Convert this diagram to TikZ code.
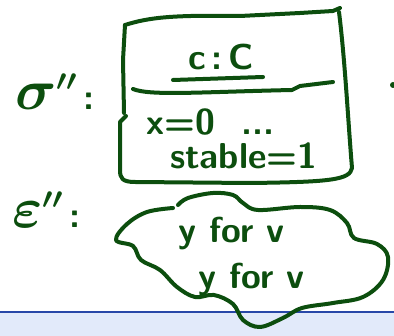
\documentclass[tikz,border=0pt]{standalone}
\usepackage{tikz}
\usepackage{graphicx}
\usetikzlibrary{calc}

\definecolor{ink}{RGB}{12,78,14}
\definecolor{barline}{RGB}{40,72,168}
\definecolor{barfill}{RGB}{226,234,250}

\newcommand{\bigsym}[1]{\scalebox{2.3}{$#1$}\raisebox{0.5ex}{\scalebox{1.2}{$''$}}\,:}

\begin{document}
\begin{tikzpicture}[x=1pt,y=-1pt,
	pen/.style={draw=ink, line width=4pt, line cap=round, line join=round},
	hand/.style={text=ink, font=\sffamily\bfseries\boldmath\fontsize{36}{38}\selectfont, inner sep=0pt}]
	\useasboundingbox (0,0) rectangle (394,336);
	% bottom strip
	\fill[barfill] (0,312) rectangle (394,336);
	\draw[barline, line width=1.2pt] (0,312) -- (394,312);
	% labels on the left
	\node[hand, anchor=west] (sig) at (15,92) {\bigsym{\sigma}};
	\node[hand, anchor=west] (eps) at (12,210) {\bigsym{\varepsilon}};
	% the box
	\draw[pen] (125,25) .. controls (150,17) and (175,15) .. (240,16)
		-- (300,13) -- (333,11) -- (340,8);
	\draw[pen] (339,12) .. controls (345,60) and (348,120) .. (352,168)
		.. controls (350,180) and (330,182) .. (250,183)
		-- (135,182) .. controls (122,182) and (120,178) .. (120,170)
		-- (120,122) -- (126,116);
	\draw[pen] (124,113) -- (123,60) -- (125,25);
	\coordinate (dl) at (133,89);
	\coordinate (dr) at (333,82);
	\draw[pen] (dl) .. controls (150,96) and (200,92) .. (292,90) -- (300,86) -- (dr);
	\node[hand] (obj) at (221,57) {c\,:\,C};
	\coordinate (ul) at (173,80);
	\coordinate (ur) at (263,77);
	\draw[pen] (ul) -- (ur);
	\node[hand, anchor=west] (xval) at (146,122) {x=0\ \ ...};
	\node[hand, anchor=west] (stab) at (170,156) {stable=1};
	% stray dot at the right edge
	\fill[ink] (393,85) circle (3pt);
	% the cloud
	\draw[pen] plot[smooth, tension=0.6] coordinates {
		(173,208) (147,212) (127,224) (116,240) (133,246) (141,260)
		(160,270) (177,287) (195,297) (214,295) (233,304) (243,320)
		(260,327) (283,318) (302,308) (333,303) (363,297) (383,280)
		(388,257) (377,244) (354,238) (347,223) (330,210) (300,207)
		(258,210) (243,203) (233,195) (213,193) (188,198) (178,205)};
	\node[hand, anchor=west] (forone) at (178,234) {y for v};
	\node[hand, anchor=west] (fortwo) at (198,280) {y for v};
\end{tikzpicture}
\end{document}
